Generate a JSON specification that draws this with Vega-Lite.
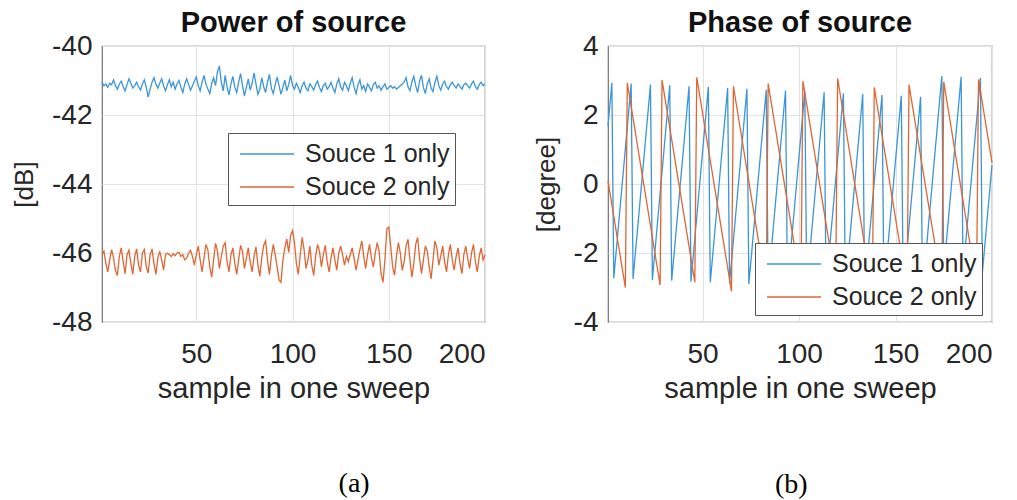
{
"$schema": "https://vega.github.io/schema/vega-lite/v6.json",
"background": "white",
"padding": {"left": 10, "top": 8, "right": 10, "bottom": 0},
"config": {
  "font": "Liberation Sans",
  "view": {"stroke": "#707070", "strokeWidth": 1.2},
  "axis": {"grid": true, "gridColor": "#e2e2e2", "gridWidth": 1, "domain": false, "ticks": false, "labelFontSize": 28, "labelColor": "#262626", "titleFontSize": 27, "titleFontWeight": "normal", "titleColor": "#262626", "labelExpr": "'' + datum.value"},
  "axisX": {"labelPadding": 18, "titlePadding": 6, "titleFontSize": 29},
  "axisY": {"labelPadding": 10, "titleFontSize": 26},
  "title": {"fontSize": 29, "fontWeight": "bold", "color": "#111111", "offset": -6},
  "legend": {"labelFontSize": 25, "labelColor": "#262626", "symbolType": "M-0.6,0H3.0", "symbolSize": 900, "symbolStrokeWidth": 1.6, "strokeColor": "#555555", "fillColor": "white", "padding": 5, "rowPadding": 4, "labelOffset": 40, "labelLimit": 300, "title": null}
},
"datasets": {
"power": [
{"n":1,"Souce 1 only":-41.05,"Souce 2 only":-46.05},{"n":2,"Souce 1 only":-41.15,"Souce 2 only":-45.95},{"n":3,"Souce 1 only":-41.10,"Souce 2 only":-46.30},{"n":4,"Souce 1 only":-41.20,"Souce 2 only":-46.55},{"n":5,"Souce 1 only":-41.08,"Souce 2 only":-46.20},{"n":6,"Souce 1 only":-41.12,"Souce 2 only":-45.90},{"n":7,"Souce 1 only":-40.98,"Souce 2 only":-46.15},{"n":8,"Souce 1 only":-41.15,"Souce 2 only":-46.50},{"n":9,"Souce 1 only":-41.25,"Souce 2 only":-46.65},{"n":10,"Souce 1 only":-41.10,"Souce 2 only":-46.10},
{"n":11,"Souce 1 only":-41.02,"Souce 2 only":-45.85},{"n":12,"Souce 1 only":-41.18,"Souce 2 only":-46.25},{"n":13,"Souce 1 only":-41.30,"Souce 2 only":-46.60},{"n":14,"Souce 1 only":-41.12,"Souce 2 only":-46.05},{"n":15,"Souce 1 only":-40.95,"Souce 2 only":-45.92},{"n":16,"Souce 1 only":-41.08,"Souce 2 only":-46.30},{"n":17,"Souce 1 only":-41.22,"Souce 2 only":-46.62},{"n":18,"Souce 1 only":-41.15,"Souce 2 only":-46.10},{"n":19,"Souce 1 only":-41.05,"Souce 2 only":-45.88},{"n":20,"Souce 1 only":-41.18,"Souce 2 only":-46.35},
{"n":21,"Souce 1 only":-41.28,"Souce 2 only":-46.55},{"n":22,"Souce 1 only":-41.10,"Souce 2 only":-46.00},{"n":23,"Souce 1 only":-40.98,"Souce 2 only":-45.90},{"n":24,"Souce 1 only":-41.20,"Souce 2 only":-46.40},{"n":25,"Souce 1 only":-41.48,"Souce 2 only":-46.58},{"n":26,"Souce 1 only":-41.25,"Souce 2 only":-46.05},{"n":27,"Souce 1 only":-41.05,"Souce 2 only":-45.88},{"n":28,"Souce 1 only":-40.92,"Souce 2 only":-46.30},{"n":29,"Souce 1 only":-41.10,"Souce 2 only":-46.62},{"n":30,"Souce 1 only":-41.22,"Souce 2 only":-46.15},
{"n":31,"Souce 1 only":-41.08,"Souce 2 only":-45.95},{"n":32,"Souce 1 only":-40.95,"Souce 2 only":-46.20},{"n":33,"Souce 1 only":-41.15,"Souce 2 only":-46.50},{"n":34,"Souce 1 only":-41.30,"Souce 2 only":-46.05},{"n":35,"Souce 1 only":-41.12,"Souce 2 only":-46.00},{"n":36,"Souce 1 only":-40.98,"Souce 2 only":-46.05},{"n":37,"Souce 1 only":-41.18,"Souce 2 only":-46.10},{"n":38,"Souce 1 only":-41.05,"Souce 2 only":-46.02},{"n":39,"Souce 1 only":-41.25,"Souce 2 only":-46.08},{"n":40,"Souce 1 only":-41.10,"Souce 2 only":-46.00},
{"n":41,"Souce 1 only":-41.00,"Souce 2 only":-45.98},{"n":42,"Souce 1 only":-41.20,"Souce 2 only":-46.10},{"n":43,"Souce 1 only":-41.35,"Souce 2 only":-46.05},{"n":44,"Souce 1 only":-41.10,"Souce 2 only":-46.20},{"n":45,"Souce 1 only":-40.95,"Souce 2 only":-46.15},{"n":46,"Souce 1 only":-41.12,"Souce 2 only":-46.00},{"n":47,"Souce 1 only":-41.28,"Souce 2 only":-45.92},{"n":48,"Souce 1 only":-41.15,"Souce 2 only":-46.10},{"n":49,"Souce 1 only":-41.02,"Souce 2 only":-46.35},{"n":50,"Souce 1 only":-40.90,"Souce 2 only":-46.05},
{"n":51,"Souce 1 only":-41.15,"Souce 2 only":-45.80},{"n":52,"Souce 1 only":-41.30,"Souce 2 only":-46.20},{"n":53,"Souce 1 only":-41.05,"Souce 2 only":-46.55},{"n":54,"Souce 1 only":-40.85,"Souce 2 only":-46.15},{"n":55,"Souce 1 only":-41.10,"Souce 2 only":-45.75},{"n":56,"Souce 1 only":-41.25,"Souce 2 only":-45.90},{"n":57,"Souce 1 only":-41.38,"Souce 2 only":-46.40},{"n":58,"Souce 1 only":-41.08,"Souce 2 only":-46.70},{"n":59,"Souce 1 only":-40.92,"Souce 2 only":-46.20},{"n":60,"Souce 1 only":-41.15,"Souce 2 only":-45.72},
{"n":61,"Souce 1 only":-40.75,"Souce 2 only":-45.95},{"n":62,"Souce 1 only":-40.58,"Souce 2 only":-46.45},{"n":63,"Souce 1 only":-41.05,"Souce 2 only":-46.10},{"n":64,"Souce 1 only":-41.30,"Souce 2 only":-45.80},{"n":65,"Souce 1 only":-40.85,"Souce 2 only":-45.70},{"n":66,"Souce 1 only":-41.20,"Souce 2 only":-46.25},{"n":67,"Souce 1 only":-41.42,"Souce 2 only":-46.55},{"n":68,"Souce 1 only":-41.10,"Souce 2 only":-46.05},{"n":69,"Souce 1 only":-40.88,"Souce 2 only":-45.85},{"n":70,"Souce 1 only":-41.20,"Souce 2 only":-46.30},
{"n":71,"Souce 1 only":-41.35,"Souce 2 only":-46.62},{"n":72,"Souce 1 only":-41.05,"Souce 2 only":-46.20},{"n":73,"Souce 1 only":-40.80,"Souce 2 only":-45.78},{"n":74,"Souce 1 only":-41.15,"Souce 2 only":-45.95},{"n":75,"Souce 1 only":-41.45,"Souce 2 only":-46.45},{"n":76,"Souce 1 only":-41.20,"Souce 2 only":-46.15},{"n":77,"Souce 1 only":-40.95,"Souce 2 only":-45.85},{"n":78,"Souce 1 only":-41.28,"Souce 2 only":-46.25},{"n":79,"Souce 1 only":-41.08,"Souce 2 only":-46.55},{"n":80,"Souce 1 only":-40.78,"Souce 2 only":-46.10},
{"n":81,"Souce 1 only":-41.10,"Souce 2 only":-45.82},{"n":82,"Souce 1 only":-41.40,"Souce 2 only":-46.35},{"n":83,"Souce 1 only":-41.25,"Souce 2 only":-46.68},{"n":84,"Souce 1 only":-40.92,"Souce 2 only":-46.15},{"n":85,"Souce 1 only":-41.18,"Souce 2 only":-45.78},{"n":86,"Souce 1 only":-41.35,"Souce 2 only":-45.65},{"n":87,"Souce 1 only":-41.05,"Souce 2 only":-46.20},{"n":88,"Souce 1 only":-40.82,"Souce 2 only":-46.62},{"n":89,"Souce 1 only":-41.22,"Souce 2 only":-46.10},{"n":90,"Souce 1 only":-41.38,"Souce 2 only":-45.75},
{"n":91,"Souce 1 only":-41.12,"Souce 2 only":-46.05},{"n":92,"Souce 1 only":-40.90,"Souce 2 only":-46.40},{"n":93,"Souce 1 only":-41.15,"Souce 2 only":-46.78},{"n":94,"Souce 1 only":-41.40,"Souce 2 only":-46.85},{"n":95,"Souce 1 only":-41.20,"Souce 2 only":-46.20},{"n":96,"Souce 1 only":-40.98,"Souce 2 only":-45.85},{"n":97,"Souce 1 only":-41.30,"Souce 2 only":-45.60},{"n":98,"Souce 1 only":-41.12,"Souce 2 only":-45.98},{"n":99,"Souce 1 only":-40.85,"Souce 2 only":-45.50},{"n":100,"Souce 1 only":-41.15,"Souce 2 only":-45.35},
{"n":101,"Souce 1 only":-41.25,"Souce 2 only":-45.70},{"n":102,"Souce 1 only":-41.08,"Souce 2 only":-46.30},{"n":103,"Souce 1 only":-41.20,"Souce 2 only":-46.62},{"n":104,"Souce 1 only":-41.35,"Souce 2 only":-46.05},{"n":105,"Souce 1 only":-41.15,"Souce 2 only":-45.55},{"n":106,"Souce 1 only":-41.05,"Souce 2 only":-45.90},{"n":107,"Souce 1 only":-41.22,"Souce 2 only":-46.45},{"n":108,"Souce 1 only":-41.30,"Souce 2 only":-46.20},{"n":109,"Souce 1 only":-41.10,"Souce 2 only":-45.80},{"n":110,"Souce 1 only":-41.18,"Souce 2 only":-46.35},
{"n":111,"Souce 1 only":-41.28,"Souce 2 only":-46.65},{"n":112,"Souce 1 only":-41.12,"Souce 2 only":-46.10},{"n":113,"Souce 1 only":-41.02,"Souce 2 only":-45.75},{"n":114,"Souce 1 only":-41.20,"Souce 2 only":-45.95},{"n":115,"Souce 1 only":-41.32,"Souce 2 only":-46.40},{"n":116,"Souce 1 only":-41.15,"Souce 2 only":-46.05},{"n":117,"Souce 1 only":-41.08,"Souce 2 only":-45.78},{"n":118,"Souce 1 only":-41.25,"Souce 2 only":-46.25},{"n":119,"Souce 1 only":-41.18,"Souce 2 only":-46.55},{"n":120,"Souce 1 only":-41.05,"Souce 2 only":-46.15},
{"n":121,"Souce 1 only":-41.22,"Souce 2 only":-45.85},{"n":122,"Souce 1 only":-41.35,"Souce 2 only":-46.20},{"n":123,"Souce 1 only":-41.10,"Souce 2 only":-46.50},{"n":124,"Souce 1 only":-40.95,"Souce 2 only":-46.00},{"n":125,"Souce 1 only":-41.18,"Souce 2 only":-45.80},{"n":126,"Souce 1 only":-41.28,"Souce 2 only":-46.05},{"n":127,"Souce 1 only":-41.05,"Souce 2 only":-46.35},{"n":128,"Souce 1 only":-41.15,"Souce 2 only":-46.10},{"n":129,"Souce 1 only":-41.30,"Souce 2 only":-46.25},{"n":130,"Souce 1 only":-41.08,"Souce 2 only":-46.05},
{"n":131,"Souce 1 only":-40.92,"Souce 2 only":-45.85},{"n":132,"Souce 1 only":-41.20,"Souce 2 only":-46.15},{"n":133,"Souce 1 only":-41.38,"Souce 2 only":-46.50},{"n":134,"Souce 1 only":-41.12,"Souce 2 only":-46.20},{"n":135,"Souce 1 only":-40.98,"Souce 2 only":-45.90},{"n":136,"Souce 1 only":-41.25,"Souce 2 only":-45.65},{"n":137,"Souce 1 only":-41.15,"Souce 2 only":-46.10},{"n":138,"Souce 1 only":-41.32,"Souce 2 only":-46.45},{"n":139,"Souce 1 only":-41.10,"Souce 2 only":-46.05},{"n":140,"Souce 1 only":-41.20,"Souce 2 only":-45.75},
{"n":141,"Souce 1 only":-41.30,"Souce 2 only":-46.15},{"n":142,"Souce 1 only":-41.12,"Souce 2 only":-46.40},{"n":143,"Souce 1 only":-41.05,"Souce 2 only":-46.00},{"n":144,"Souce 1 only":-41.22,"Souce 2 only":-45.70},{"n":145,"Souce 1 only":-41.15,"Souce 2 only":-45.95},{"n":146,"Souce 1 only":-41.28,"Souce 2 only":-46.60},{"n":147,"Souce 1 only":-41.18,"Souce 2 only":-46.85},{"n":148,"Souce 1 only":-41.10,"Souce 2 only":-46.20},{"n":149,"Souce 1 only":-41.25,"Souce 2 only":-45.30},{"n":150,"Souce 1 only":-41.20,"Souce 2 only":-45.25},
{"n":151,"Souce 1 only":-41.15,"Souce 2 only":-45.80},{"n":152,"Souce 1 only":-41.22,"Souce 2 only":-46.40},{"n":153,"Souce 1 only":-41.18,"Souce 2 only":-46.65},{"n":154,"Souce 1 only":-41.25,"Souce 2 only":-46.10},{"n":155,"Souce 1 only":-41.20,"Souce 2 only":-45.70},{"n":156,"Souce 1 only":-41.15,"Souce 2 only":-46.00},{"n":157,"Souce 1 only":-41.10,"Souce 2 only":-46.50},{"n":158,"Souce 1 only":-41.05,"Souce 2 only":-46.25},{"n":159,"Souce 1 only":-40.92,"Souce 2 only":-45.80},{"n":160,"Souce 1 only":-41.18,"Souce 2 only":-45.60},
{"n":161,"Souce 1 only":-41.30,"Souce 2 only":-46.20},{"n":162,"Souce 1 only":-41.05,"Souce 2 only":-46.70},{"n":163,"Souce 1 only":-40.88,"Souce 2 only":-46.30},{"n":164,"Souce 1 only":-41.15,"Souce 2 only":-45.75},{"n":165,"Souce 1 only":-41.35,"Souce 2 only":-45.55},{"n":166,"Souce 1 only":-41.02,"Souce 2 only":-46.15},{"n":167,"Souce 1 only":-40.85,"Souce 2 only":-46.60},{"n":168,"Souce 1 only":-41.20,"Souce 2 only":-46.20},{"n":169,"Souce 1 only":-41.38,"Souce 2 only":-45.80},{"n":170,"Souce 1 only":-41.10,"Souce 2 only":-45.95},
{"n":171,"Souce 1 only":-40.95,"Souce 2 only":-46.40},{"n":172,"Souce 1 only":-41.22,"Souce 2 only":-46.75},{"n":173,"Souce 1 only":-41.32,"Souce 2 only":-46.20},{"n":174,"Souce 1 only":-41.05,"Souce 2 only":-45.65},{"n":175,"Souce 1 only":-40.88,"Souce 2 only":-45.85},{"n":176,"Souce 1 only":-41.15,"Souce 2 only":-46.35},{"n":177,"Souce 1 only":-41.28,"Souce 2 only":-46.10},{"n":178,"Souce 1 only":-41.10,"Souce 2 only":-45.80},{"n":179,"Souce 1 only":-41.02,"Souce 2 only":-46.25},{"n":180,"Souce 1 only":-41.18,"Souce 2 only":-46.55},
{"n":181,"Souce 1 only":-41.25,"Souce 2 only":-46.05},{"n":182,"Souce 1 only":-41.12,"Souce 2 only":-45.75},{"n":183,"Souce 1 only":-41.05,"Souce 2 only":-46.20},{"n":184,"Souce 1 only":-41.15,"Souce 2 only":-46.50},{"n":185,"Souce 1 only":-41.22,"Souce 2 only":-46.10},{"n":186,"Souce 1 only":-41.10,"Souce 2 only":-45.85},{"n":187,"Souce 1 only":-41.18,"Souce 2 only":-46.30},{"n":188,"Souce 1 only":-41.25,"Souce 2 only":-46.60},{"n":189,"Souce 1 only":-41.12,"Souce 2 only":-46.05},{"n":190,"Souce 1 only":-41.08,"Souce 2 only":-45.80},
{"n":191,"Souce 1 only":-41.15,"Souce 2 only":-46.15},{"n":192,"Souce 1 only":-41.22,"Souce 2 only":-46.45},{"n":193,"Souce 1 only":-41.10,"Souce 2 only":-46.00},{"n":194,"Souce 1 only":-41.02,"Souce 2 only":-45.75},{"n":195,"Souce 1 only":-41.18,"Souce 2 only":-46.25},{"n":196,"Souce 1 only":-41.25,"Souce 2 only":-46.55},{"n":197,"Souce 1 only":-41.12,"Souce 2 only":-46.10},{"n":198,"Souce 1 only":-41.05,"Souce 2 only":-45.85},{"n":199,"Souce 1 only":-41.15,"Souce 2 only":-46.20},{"n":200,"Souce 1 only":-41.10,"Souce 2 only":-46.05}
],
"phase": [
{"n":1,"Souce 1 only":1.68,"Souce 2 only":0.10},{"n":2,"Souce 1 only":2.30,"Souce 2 only":-0.25},{"n":3,"Souce 1 only":2.93,"Souce 2 only":-0.59},{"n":4,"Souce 1 only":-2.73,"Souce 2 only":-0.94},{"n":5,"Souce 1 only":-2.10,"Souce 2 only":-1.28},{"n":6,"Souce 1 only":-1.48,"Souce 2 only":-1.63},{"n":7,"Souce 1 only":-0.85,"Souce 2 only":-1.97},{"n":8,"Souce 1 only":-0.22,"Souce 2 only":-2.32},{"n":9,"Souce 1 only":0.40,"Souce 2 only":-2.66},{"n":10,"Souce 1 only":1.03,"Souce 2 only":-3.00},
{"n":11,"Souce 1 only":1.65,"Souce 2 only":2.93},{"n":12,"Souce 1 only":2.28,"Souce 2 only":2.59},{"n":13,"Souce 1 only":2.91,"Souce 2 only":2.25},{"n":14,"Souce 1 only":-2.75,"Souce 2 only":1.90},{"n":15,"Souce 1 only":-2.13,"Souce 2 only":1.56},{"n":16,"Souce 1 only":-1.50,"Souce 2 only":1.21},{"n":17,"Souce 1 only":-0.88,"Souce 2 only":0.87},{"n":18,"Souce 1 only":-0.25,"Souce 2 only":0.52},{"n":19,"Souce 1 only":0.38,"Souce 2 only":0.18},{"n":20,"Souce 1 only":1.00,"Souce 2 only":-0.17},
{"n":21,"Souce 1 only":1.63,"Souce 2 only":-0.51},{"n":22,"Souce 1 only":2.25,"Souce 2 only":-0.86},{"n":23,"Souce 1 only":2.88,"Souce 2 only":-1.20},{"n":24,"Souce 1 only":-2.78,"Souce 2 only":-1.55},{"n":25,"Souce 1 only":-2.15,"Souce 2 only":-1.89},{"n":26,"Souce 1 only":-1.53,"Souce 2 only":-2.24},{"n":27,"Souce 1 only":-0.90,"Souce 2 only":-2.58},{"n":28,"Souce 1 only":-0.27,"Souce 2 only":-2.93},{"n":29,"Souce 1 only":0.35,"Souce 2 only":3.01},{"n":30,"Souce 1 only":0.98,"Souce 2 only":2.67},
{"n":31,"Souce 1 only":1.60,"Souce 2 only":2.32},{"n":32,"Souce 1 only":2.23,"Souce 2 only":1.98},{"n":33,"Souce 1 only":2.86,"Souce 2 only":1.64},{"n":34,"Souce 1 only":-2.80,"Souce 2 only":1.29},{"n":35,"Souce 1 only":-2.18,"Souce 2 only":0.95},{"n":36,"Souce 1 only":-1.55,"Souce 2 only":0.60},{"n":37,"Souce 1 only":-0.93,"Souce 2 only":0.26},{"n":38,"Souce 1 only":-0.30,"Souce 2 only":-0.09},{"n":39,"Souce 1 only":0.33,"Souce 2 only":-0.43},{"n":40,"Souce 1 only":0.95,"Souce 2 only":-0.78},
{"n":41,"Souce 1 only":1.58,"Souce 2 only":-1.12},{"n":42,"Souce 1 only":2.20,"Souce 2 only":-1.47},{"n":43,"Souce 1 only":2.83,"Souce 2 only":-1.81},{"n":44,"Souce 1 only":-2.83,"Souce 2 only":-2.16},{"n":45,"Souce 1 only":-2.20,"Souce 2 only":-2.50},{"n":46,"Souce 1 only":-1.58,"Souce 2 only":-2.85},{"n":47,"Souce 1 only":-0.95,"Souce 2 only":3.09},{"n":48,"Souce 1 only":-0.32,"Souce 2 only":2.75},{"n":49,"Souce 1 only":0.30,"Souce 2 only":2.40},{"n":50,"Souce 1 only":0.93,"Souce 2 only":2.06},
{"n":51,"Souce 1 only":1.55,"Souce 2 only":1.71},{"n":52,"Souce 1 only":2.18,"Souce 2 only":1.37},{"n":53,"Souce 1 only":2.81,"Souce 2 only":1.02},{"n":54,"Souce 1 only":-2.85,"Souce 2 only":0.68},{"n":55,"Souce 1 only":-2.23,"Souce 2 only":0.34},{"n":56,"Souce 1 only":-1.60,"Souce 2 only":-0.01},{"n":57,"Souce 1 only":-0.98,"Souce 2 only":-0.35},{"n":58,"Souce 1 only":-0.35,"Souce 2 only":-0.70},{"n":59,"Souce 1 only":0.28,"Souce 2 only":-1.04},{"n":60,"Souce 1 only":0.90,"Souce 2 only":-1.39},
{"n":61,"Souce 1 only":1.53,"Souce 2 only":-1.73},{"n":62,"Souce 1 only":2.15,"Souce 2 only":-2.08},{"n":63,"Souce 1 only":2.78,"Souce 2 only":-2.42},{"n":64,"Souce 1 only":-2.88,"Souce 2 only":-2.77},{"n":65,"Souce 1 only":-2.25,"Souce 2 only":-3.11},{"n":66,"Souce 1 only":-1.63,"Souce 2 only":2.83},{"n":67,"Souce 1 only":-1.00,"Souce 2 only":2.48},{"n":68,"Souce 1 only":-0.37,"Souce 2 only":2.14},{"n":69,"Souce 1 only":0.25,"Souce 2 only":1.79},{"n":70,"Souce 1 only":0.88,"Souce 2 only":1.45},
{"n":71,"Souce 1 only":1.50,"Souce 2 only":1.10},{"n":72,"Souce 1 only":2.13,"Souce 2 only":0.76},{"n":73,"Souce 1 only":2.76,"Souce 2 only":0.41},{"n":74,"Souce 1 only":-2.90,"Souce 2 only":0.07},{"n":75,"Souce 1 only":-2.28,"Souce 2 only":-0.28},{"n":76,"Souce 1 only":-1.65,"Souce 2 only":-0.62},{"n":77,"Souce 1 only":-1.03,"Souce 2 only":-0.97},{"n":78,"Souce 1 only":-0.40,"Souce 2 only":-1.31},{"n":79,"Souce 1 only":0.23,"Souce 2 only":-1.65},{"n":80,"Souce 1 only":0.85,"Souce 2 only":-2.00},
{"n":81,"Souce 1 only":1.48,"Souce 2 only":-2.34},{"n":82,"Souce 1 only":2.10,"Souce 2 only":-2.69},{"n":83,"Souce 1 only":2.73,"Souce 2 only":-3.03},{"n":84,"Souce 1 only":-2.93,"Souce 2 only":2.91},{"n":85,"Souce 1 only":-2.30,"Souce 2 only":2.56},{"n":86,"Souce 1 only":-1.68,"Souce 2 only":2.22},{"n":87,"Souce 1 only":-1.05,"Souce 2 only":1.87},{"n":88,"Souce 1 only":-0.42,"Souce 2 only":1.53},{"n":89,"Souce 1 only":0.20,"Souce 2 only":1.18},{"n":90,"Souce 1 only":0.83,"Souce 2 only":0.84},
{"n":91,"Souce 1 only":1.45,"Souce 2 only":0.49},{"n":92,"Souce 1 only":2.08,"Souce 2 only":0.15},{"n":93,"Souce 1 only":2.71,"Souce 2 only":-0.20},{"n":94,"Souce 1 only":-2.95,"Souce 2 only":-0.54},{"n":95,"Souce 1 only":-2.33,"Souce 2 only":-0.89},{"n":96,"Souce 1 only":-1.70,"Souce 2 only":-1.23},{"n":97,"Souce 1 only":-1.08,"Souce 2 only":-1.58},{"n":98,"Souce 1 only":-0.45,"Souce 2 only":-1.92},{"n":99,"Souce 1 only":0.18,"Souce 2 only":-2.27},{"n":100,"Souce 1 only":0.80,"Souce 2 only":-2.61},
{"n":101,"Souce 1 only":1.43,"Souce 2 only":-2.95},{"n":102,"Souce 1 only":2.05,"Souce 2 only":2.98},{"n":103,"Souce 1 only":2.68,"Souce 2 only":2.64},{"n":104,"Souce 1 only":-2.98,"Souce 2 only":2.30},{"n":105,"Souce 1 only":-2.35,"Souce 2 only":1.95},{"n":106,"Souce 1 only":-1.73,"Souce 2 only":1.61},{"n":107,"Souce 1 only":-1.10,"Souce 2 only":1.26},{"n":108,"Souce 1 only":-0.47,"Souce 2 only":0.92},{"n":109,"Souce 1 only":0.15,"Souce 2 only":0.57},{"n":110,"Souce 1 only":0.78,"Souce 2 only":0.23},
{"n":111,"Souce 1 only":1.40,"Souce 2 only":-0.12},{"n":112,"Souce 1 only":2.03,"Souce 2 only":-0.46},{"n":113,"Souce 1 only":2.66,"Souce 2 only":-0.81},{"n":114,"Souce 1 only":-3.00,"Souce 2 only":-1.15},{"n":115,"Souce 1 only":-2.38,"Souce 2 only":-1.50},{"n":116,"Souce 1 only":-1.75,"Souce 2 only":-1.84},{"n":117,"Souce 1 only":-1.13,"Souce 2 only":-2.19},{"n":118,"Souce 1 only":-0.50,"Souce 2 only":-2.53},{"n":119,"Souce 1 only":0.13,"Souce 2 only":-2.88},{"n":120,"Souce 1 only":0.75,"Souce 2 only":3.06},
{"n":121,"Souce 1 only":1.38,"Souce 2 only":2.72},{"n":122,"Souce 1 only":2.00,"Souce 2 only":2.37},{"n":123,"Souce 1 only":2.63,"Souce 2 only":2.03},{"n":124,"Souce 1 only":-3.03,"Souce 2 only":1.69},{"n":125,"Souce 1 only":-2.40,"Souce 2 only":1.34},{"n":126,"Souce 1 only":-1.78,"Souce 2 only":1.00},{"n":127,"Souce 1 only":-1.15,"Souce 2 only":0.65},{"n":128,"Souce 1 only":-0.52,"Souce 2 only":0.31},{"n":129,"Souce 1 only":0.10,"Souce 2 only":-0.04},{"n":130,"Souce 1 only":0.73,"Souce 2 only":-0.38},
{"n":131,"Souce 1 only":1.35,"Souce 2 only":-0.73},{"n":132,"Souce 1 only":1.98,"Souce 2 only":-1.07},{"n":133,"Souce 1 only":2.61,"Souce 2 only":-1.42},{"n":134,"Souce 1 only":-3.05,"Souce 2 only":-1.76},{"n":135,"Souce 1 only":-2.43,"Souce 2 only":-2.11},{"n":136,"Souce 1 only":-1.80,"Souce 2 only":-2.45},{"n":137,"Souce 1 only":-1.18,"Souce 2 only":-2.80},{"n":138,"Souce 1 only":-0.55,"Souce 2 only":-3.14},{"n":139,"Souce 1 only":0.08,"Souce 2 only":2.80},{"n":140,"Souce 1 only":0.70,"Souce 2 only":2.45},
{"n":141,"Souce 1 only":1.33,"Souce 2 only":2.11},{"n":142,"Souce 1 only":1.95,"Souce 2 only":1.76},{"n":143,"Souce 1 only":2.58,"Souce 2 only":1.42},{"n":144,"Souce 1 only":-3.08,"Souce 2 only":1.07},{"n":145,"Souce 1 only":-2.45,"Souce 2 only":0.73},{"n":146,"Souce 1 only":-1.83,"Souce 2 only":0.39},{"n":147,"Souce 1 only":-1.20,"Souce 2 only":0.04},{"n":148,"Souce 1 only":-0.57,"Souce 2 only":-0.31},{"n":149,"Souce 1 only":0.05,"Souce 2 only":-0.65},{"n":150,"Souce 1 only":0.68,"Souce 2 only":-0.99},
{"n":151,"Souce 1 only":1.30,"Souce 2 only":-1.34},{"n":152,"Souce 1 only":1.93,"Souce 2 only":-1.68},{"n":153,"Souce 1 only":2.56,"Souce 2 only":-2.03},{"n":154,"Souce 1 only":-3.10,"Souce 2 only":-2.37},{"n":155,"Souce 1 only":-2.48,"Souce 2 only":-2.72},{"n":156,"Souce 1 only":-1.85,"Souce 2 only":-3.06},{"n":157,"Souce 1 only":-1.23,"Souce 2 only":2.88},{"n":158,"Souce 1 only":-0.60,"Souce 2 only":2.53},{"n":159,"Souce 1 only":0.03,"Souce 2 only":2.19},{"n":160,"Souce 1 only":0.65,"Souce 2 only":1.84},
{"n":161,"Souce 1 only":1.28,"Souce 2 only":1.50},{"n":162,"Souce 1 only":1.90,"Souce 2 only":1.15},{"n":163,"Souce 1 only":2.53,"Souce 2 only":0.81},{"n":164,"Souce 1 only":-3.13,"Souce 2 only":0.46},{"n":165,"Souce 1 only":-2.50,"Souce 2 only":0.12},{"n":166,"Souce 1 only":-1.88,"Souce 2 only":-0.23},{"n":167,"Souce 1 only":-1.25,"Souce 2 only":-0.57},{"n":168,"Souce 1 only":-0.62,"Souce 2 only":-0.92},{"n":169,"Souce 1 only":0.00,"Souce 2 only":-1.26},{"n":170,"Souce 1 only":0.63,"Souce 2 only":-1.60},
{"n":171,"Souce 1 only":1.25,"Souce 2 only":-1.95},{"n":172,"Souce 1 only":1.88,"Souce 2 only":-2.29},{"n":173,"Souce 1 only":2.51,"Souce 2 only":-2.64},{"n":174,"Souce 1 only":3.13,"Souce 2 only":-2.98},{"n":175,"Souce 1 only":-2.53,"Souce 2 only":2.96},{"n":176,"Souce 1 only":-1.90,"Souce 2 only":2.61},{"n":177,"Souce 1 only":-1.28,"Souce 2 only":2.27},{"n":178,"Souce 1 only":-0.65,"Souce 2 only":1.92},{"n":179,"Souce 1 only":-0.02,"Souce 2 only":1.58},{"n":180,"Souce 1 only":0.60,"Souce 2 only":1.23},
{"n":181,"Souce 1 only":1.23,"Souce 2 only":0.89},{"n":182,"Souce 1 only":1.85,"Souce 2 only":0.54},{"n":183,"Souce 1 only":2.48,"Souce 2 only":0.20},{"n":184,"Souce 1 only":3.11,"Souce 2 only":-0.15},{"n":185,"Souce 1 only":-2.55,"Souce 2 only":-0.49},{"n":186,"Souce 1 only":-1.93,"Souce 2 only":-0.84},{"n":187,"Souce 1 only":-1.30,"Souce 2 only":-1.18},{"n":188,"Souce 1 only":-0.67,"Souce 2 only":-1.53},{"n":189,"Souce 1 only":-0.05,"Souce 2 only":-1.87},{"n":190,"Souce 1 only":0.58,"Souce 2 only":-2.22},
{"n":191,"Souce 1 only":1.20,"Souce 2 only":-2.56},{"n":192,"Souce 1 only":1.83,"Souce 2 only":-2.90},{"n":193,"Souce 1 only":2.46,"Souce 2 only":3.03},{"n":194,"Souce 1 only":3.08,"Souce 2 only":2.69},{"n":195,"Souce 1 only":-2.58,"Souce 2 only":2.35},{"n":196,"Souce 1 only":-1.95,"Souce 2 only":2.00},{"n":197,"Souce 1 only":-1.33,"Souce 2 only":1.66},{"n":198,"Souce 1 only":-0.70,"Souce 2 only":1.31},{"n":199,"Souce 1 only":-0.07,"Souce 2 only":0.97},{"n":200,"Souce 1 only":0.55,"Souce 2 only":0.62}
]
},
"bounds": "flush",
"spacing": 123,
"resolve": {"legend": {"color": "independent"}},
"hconcat": [
{
  "width": 383, "height": 276,
  "title": "Power of source",
  "layer": [
    {
      "data": {"name": "power"},
      "transform": [{"fold": ["Souce 1 only", "Souce 2 only"], "as": ["series", "value"]}],
      "mark": {"type": "line", "strokeWidth": 1.3},
      "encoding": {
        "x": {"field": "n", "type": "quantitative", "scale": {"domain": [1, 200], "nice": false}, "axis": {"values": [50, 100, 150, 200], "title": "sample in one sweep"}},
        "y": {"field": "value", "type": "quantitative", "scale": {"domain": [-48, -40], "nice": false, "zero": false}, "axis": {"values": [-48, -46, -44, -42, -40], "title": "[dB]", "titlePadding": 14}},
        "color": {"field": "series", "type": "nominal", "scale": {"domain": ["Souce 1 only", "Souce 2 only"], "range": ["#3a96d8", "#df6633"]}, "legend": {"orient": "none", "legendX": 126, "legendY": 87}}
      }
    },
    {
      "data": {"values": [{"caption": "(a)"}]},
      "mark": {"type": "text", "font": "Liberation Serif", "fontSize": 28, "color": "#000000"},
      "encoding": {"x": {"datum": 132}, "y": {"datum": -52.7}, "text": {"field": "caption"}}
    }
  ]
},
{
  "width": 384, "height": 276,
  "title": "Phase of source",
  "layer": [
    {
      "data": {"name": "phase"},
      "transform": [{"fold": ["Souce 1 only", "Souce 2 only"], "as": ["series", "value"]}],
      "mark": {"type": "line", "strokeWidth": 1.3},
      "encoding": {
        "x": {"field": "n", "type": "quantitative", "scale": {"domain": [1, 200], "nice": false}, "axis": {"values": [50, 100, 150, 200], "title": "sample in one sweep"}},
        "y": {"field": "value", "type": "quantitative", "scale": {"domain": [-4, 4], "nice": false}, "axis": {"values": [-4, -2, 0, 2, 4], "title": "[degree]", "titlePadding": 14}},
        "color": {"field": "series", "type": "nominal", "scale": {"domain": ["Souce 1 only", "Souce 2 only"], "range": ["#3a96d8", "#df6633"]}, "legend": {"orient": "none", "legendX": 147, "legendY": 197}}
      }
    },
    {
      "data": {"values": [{"caption": "(b)"}]},
      "mark": {"type": "text", "font": "Liberation Serif", "fontSize": 28, "color": "#000000"},
      "encoding": {"x": {"datum": 96}, "y": {"datum": -8.72}, "text": {"field": "caption"}}
    }
  ]
}
]
}
